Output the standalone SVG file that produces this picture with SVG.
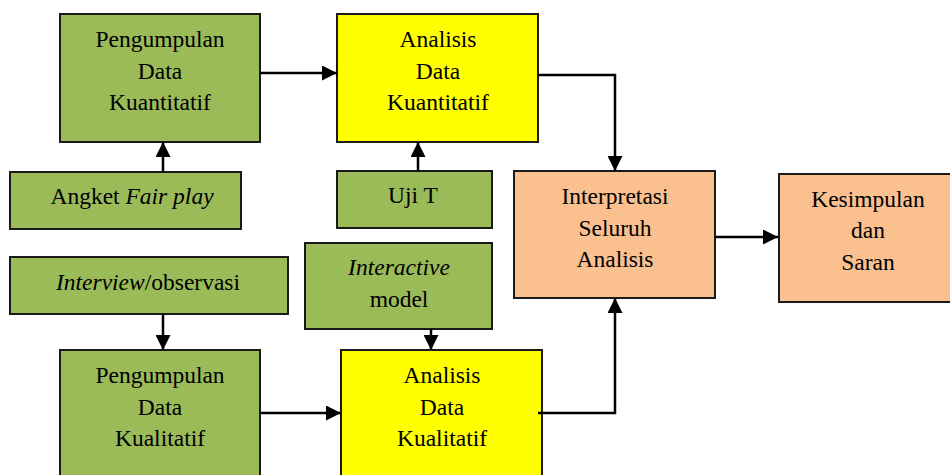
<svg xmlns="http://www.w3.org/2000/svg" width="950" height="475" viewBox="0 0 950 475">
  <defs>
    <marker id="arr" viewBox="0 0 15 15" refX="15" refY="7.5" markerWidth="15" markerHeight="15" markerUnits="userSpaceOnUse" orient="auto">
      <path d="M0,0 L15,7.5 L0,15 z" fill="#000"/>
    </marker>
    <style>
      .box { stroke: #1a1a1a; stroke-width: 2; }
      .green { fill: #9BBB59; }
      .yellow { fill: #FFFF00; }
      .orange { fill: #FAC090; }
      text { font-family: "Liberation Serif", "Times New Roman", serif; font-size: 23.5px; fill: #000; text-anchor: middle; }
      .it { font-style: italic; }
      .conn { fill: none; stroke: #000; stroke-width: 2.5; marker-end: url(#arr); }
    </style>
  </defs>
  <rect width="950" height="475" fill="#fff"/>

  <g id="pengumpulan-kuantitatif">
    <rect class="box green" x="60" y="14" width="200" height="128"/>
    <text x="160" y="47">Pengumpulan</text>
    <text x="160" y="79">Data</text>
    <text x="160" y="110">Kuantitatif</text>
  </g>

  <g id="angket">
    <rect class="box green" x="10" y="172" width="231" height="57"/>
    <text x="132" y="204">Angket <tspan class="it">Fair play</tspan></text>
  </g>

  <g id="analisis-kuantitatif">
    <rect class="box yellow" x="337" y="14" width="201" height="128"/>
    <text x="438" y="47">Analisis</text>
    <text x="438" y="79">Data</text>
    <text x="438" y="110">Kuantitatif</text>
  </g>

  <g id="uji-t">
    <rect class="box green" x="337" y="171" width="155" height="57"/>
    <text x="413" y="203">Uji T</text>
  </g>

  <g id="interpretasi">
    <rect class="box orange" x="514" y="171" width="201" height="127"/>
    <text x="615" y="204">Interpretasi</text>
    <text x="615" y="236">Seluruh</text>
    <text x="615" y="267">Analisis</text>
  </g>

  <g id="kesimpulan">
    <rect class="box orange" x="779" y="174" width="180" height="128"/>
    <text x="868" y="207">Kesimpulan</text>
    <text x="868" y="238">dan</text>
    <text x="868" y="270">Saran</text>
  </g>

  <g id="interview">
    <rect class="box green" x="10" y="257" width="278" height="57"/>
    <text x="148" y="290"><tspan class="it">Interview</tspan>/observasi</text>
  </g>

  <g id="interactive-model">
    <rect class="box green" x="305" y="243" width="187" height="86"/>
    <text class="it" x="399" y="275">Interactive</text>
    <text x="399" y="307">model</text>
  </g>

  <g id="pengumpulan-kualitatif">
    <rect class="box green" x="60" y="350" width="200" height="140"/>
    <text x="160" y="383">Pengumpulan</text>
    <text x="160" y="415">Data</text>
    <text x="160" y="446">Kualitatif</text>
  </g>

  <g id="analisis-kualitatif">
    <rect class="box yellow" x="341" y="350" width="201" height="140"/>
    <text x="442" y="383">Analisis</text>
    <text x="442" y="415">Data</text>
    <text x="442" y="446">Kualitatif</text>
  </g>

  <g id="connectors">
    <path class="conn" d="M260,73 H337"/>
    <path class="conn" d="M163,172 V142"/>
    <path class="conn" d="M418,171 V142"/>
    <path class="conn" d="M538,75 H615 V171"/>
    <path class="conn" d="M715,237 H778"/>
    <path class="conn" d="M163,314 V350"/>
    <path class="conn" d="M260,413 H341"/>
    <path class="conn" d="M431,329 V350"/>
    <path class="conn" d="M538,413 H615 V298"/>
  </g>
</svg>
